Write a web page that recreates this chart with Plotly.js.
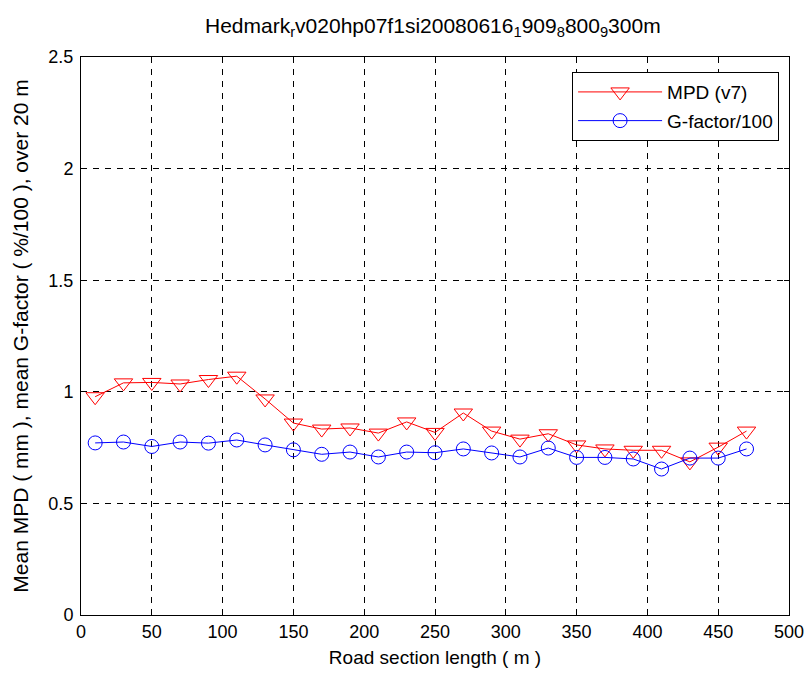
<!DOCTYPE html>
<html>
<head>
<meta charset="utf-8">
<script src="https://cdn.plot.ly/plotly-3.0.1.min.js"></script>
<style>html,body{margin:0;padding:0;background:#fff;}#chart{width:809px;height:675px;}</style>
</head>
<body>
<div id="chart"></div>
<script>
const distance = [10,30,50,70,90,110,130,150,170,190,210,230,250,270,290,310,330,350,370,390,410,430,450,470];
const mpd = [0.978,1.04,1.042,1.035,1.055,1.07,0.968,0.86,0.833,0.838,0.815,0.865,0.818,0.905,0.824,0.788,0.812,0.762,0.744,0.738,0.738,0.686,0.752,0.824];
const gfactor = [0.771,0.775,0.755,0.775,0.77,0.784,0.762,0.74,0.72,0.73,0.708,0.73,0.727,0.744,0.726,0.708,0.748,0.706,0.706,0.699,0.654,0.703,0.703,0.744];
const seriesNames = ["MPD (v7)", "G-factor/100"];
const xTicks = [0,50,100,150,200,250,300,350,400,450,500];
const yTicks = [0,0.5,1,1.5,2,2.5];
const yTickText = ["0","0.5","1","1.5","2","2.5"];

const font = "Liberation Sans, Arial, sans-serif";
const traces = [
  {x: distance, y: mpd, name: seriesNames[0], legendgroup: "a", type: "scatter", mode: "lines+markers",
   line: {color: "#ff0000", width: 1},
   marker: {symbol: "triangle-down-open", size: 16, color: "#ff0000", line: {width: 1, color: "#ff0000"}}},
  {x: distance, y: gfactor, name: seriesNames[1], legendgroup: "b", type: "scatter", mode: "lines+markers",
   line: {color: "#0000ff", width: 1},
   marker: {symbol: "circle-open", size: 14, color: "#0000ff", line: {width: 1, color: "#0000ff"}}}
];
const axisCommon = {
  showline: true, linecolor: "#000", linewidth: 1, mirror: "ticks",
  ticks: "inside", ticklen: 5, tickcolor: "#000",
  showgrid: true, gridcolor: "#000", gridwidth: 1, griddash: "6px,6px",
  zeroline: false, tickfont: {family: font, size: 18, color: "#000"}
};
const layout = {
  width: 809, height: 675,
  margin: {l: 81, r: 20, t: 57, b: 60},
  paper_bgcolor: "#fff", plot_bgcolor: "#fff",
  font: {family: font, color: "#000"},
  title: {text: "Hedmark<sub>r</sub>v020hp07f1si20080616<sub>1</sub>909<sub>8</sub>800<sub>9</sub>300m",
          font: {family: font, size: 21, color: "#000"}, x: 0.535, xanchor: "center", y: 0.962, yanchor: "middle"},
  xaxis: Object.assign({}, axisCommon, {range: [0, 500], tickvals: xTicks,
          title: {text: "Road section length ( m )", font: {family: font, size: 19, color: "#000"}, standoff: 10}}),
  yaxis: Object.assign({}, axisCommon, {range: [0, 2.5], tickvals: yTicks, ticktext: yTickText, ticklabelstandoff: 3,
          title: {text: "Mean MPD ( mm ), mean G-factor ( %/100 ), over 20 m", font: {family: font, size: 21, color: "#000"}, standoff: 14}}),
  showlegend: true,
  legend: {x: 0.986, xanchor: "right", y: 0.973, yanchor: "top", bgcolor: "#fff",
           bordercolor: "#000", borderwidth: 1, font: {family: font, size: 19, color: "#000"},
           itemwidth: 84, traceorder: "grouped", tracegroupgap: 1}
};
Plotly.newPlot("chart", traces, layout, {displayModeBar: false, staticPlot: true});
</script>
</body>
</html>
